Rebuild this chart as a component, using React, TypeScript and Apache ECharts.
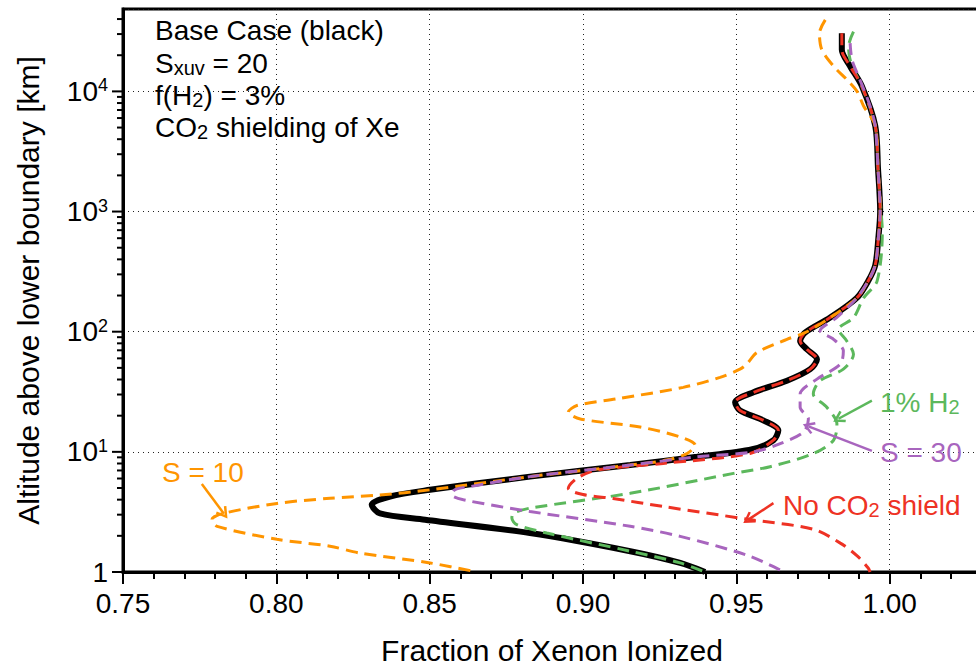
import React, { useEffect, useRef } from 'react';
import * as echarts from 'echarts';

const FONT = '"Liberation Sans", Arial, Helvetica, sans-serif';

const X_MIN = 0.75;
const X_MAX = 1.05;
const Y_MIN = 1;
const Y_MAX = 48500;

const COLOR_BASE = '#000000';
const COLOR_S10 = '#FF9500';
const COLOR_H2 = '#5CB85C';
const COLOR_S30 = '#A865BE';
const COLOR_CO2 = '#EE3224';

// [fraction ionized, altitude km]
const baseCase: [number, number][] = [
  [0.9844, 30500], [0.9844, 22200], [0.9871, 16200], [0.9909, 11100], [0.9953, 5170],
  [0.9962, 2270], [0.9969, 1000], [0.9963, 598], [0.9953, 358], [0.9930, 264],
  [0.9893, 191], [0.9806, 131], [0.9724, 98.1], [0.9708, 83.8], [0.9730, 71.4],
  [0.9763, 59.0], [0.9741, 48.8], [0.9665, 39.1], [0.9556, 31.3], [0.9496, 25.9],
  [0.9512, 22.1], [0.9588, 18.3], [0.9637, 15.1], [0.9621, 12.5], [0.9552, 10.5],
  [0.9372, 9.09], [0.9154, 7.76], [0.8827, 6.22], [0.8501, 4.83], [0.8371, 4.25],
  [0.8311, 3.63], [0.8338, 3.07], [0.8485, 2.72], [0.8827, 2.11], [0.9154, 1.49],
  [0.9317, 1.19], [0.9398, 1.0],
];

const noCO2Shield: [number, number][] = [
  [0.9844, 30500], [0.9844, 22200], [0.9871, 16200], [0.9909, 11100], [0.9953, 5170],
  [0.9962, 2270], [0.9969, 1000], [0.9963, 598], [0.9953, 358], [0.9930, 264],
  [0.9893, 191], [0.9806, 131], [0.9724, 98.1], [0.9708, 83.8], [0.9730, 71.4],
  [0.9763, 59.0], [0.9741, 48.8], [0.9665, 39.1], [0.9556, 31.3], [0.9496, 25.9],
  [0.9512, 22.1], [0.9588, 18.3], [0.9637, 15.1], [0.9621, 12.5], [0.9545, 9.7],
  [0.9261, 8.01], [0.9046, 7.06], [0.8980, 6.02], [0.8952, 4.97], [0.9000, 4.41],
  [0.9098, 4.09], [0.9261, 3.51], [0.9545, 2.73], [0.9750, 2.27], [0.9839, 1.74],
  [0.9894, 1.36], [0.9930, 1.08], [0.9936, 1.0],
];

const s10: [number, number][] = [
  [0.9790, 39400], [0.9771, 30500], [0.9779, 22200], [0.9817, 16200], [0.9860, 12570],
  [0.9893, 10060], [0.9915, 7560], [0.9953, 5170], [0.9962, 2270], [0.9969, 1000],
  [0.9963, 598], [0.9953, 358], [0.9930, 264], [0.9893, 191], [0.9806, 131],
  [0.9724, 98.1], [0.9665, 86.4], [0.9567, 67.0], [0.9534, 53.7], [0.9512, 48.8],
  [0.9447, 41.7], [0.9327, 34.4], [0.9110, 27.6], [0.8980, 24.3], [0.8952, 21.4],
  [0.8991, 18.8], [0.9186, 16.1], [0.9317, 13.3], [0.9366, 11.36], [0.9339, 9.68],
  [0.9273, 8.54], [0.9154, 7.76], [0.8827, 6.22], [0.8501, 4.83], [0.8338, 4.37],
  [0.8175, 4.11], [0.8002, 3.72], [0.7826, 3.07], [0.7790, 2.74], [0.7807, 2.40],
  [0.8002, 1.87], [0.8175, 1.64], [0.8273, 1.436], [0.8501, 1.19], [0.8655, 1.0],
];

const s30: [number, number][] = [
  [0.9871, 25250], [0.9877, 18380], [0.9898, 13390], [0.9920, 9750], [0.9936, 7560],
  [0.9953, 5170], [0.9962, 2270], [0.9969, 1000], [0.9963, 598], [0.9953, 358],
  [0.9930, 264], [0.9893, 191], [0.9826, 130.6], [0.9773, 102], [0.9817, 86.4],
  [0.9849, 69.3], [0.9839, 53.7], [0.9763, 40.3], [0.9708, 30.3], [0.9708, 23.5],
  [0.9735, 18.8], [0.9719, 14.6], [0.9643, 11.7], [0.9556, 10.0], [0.9372, 9.09],
  [0.9154, 7.76], [0.8827, 6.22], [0.8632, 5.14], [0.8583, 4.85], [0.8573, 4.37],
  [0.8610, 3.99], [0.8827, 3.19], [0.9154, 2.40], [0.9317, 1.98], [0.9535, 1.38],
  [0.9643, 1.04], [0.9655, 1.0],
];

const h2OnePct: [number, number][] = [
  [0.9882, 31500], [0.9866, 23670], [0.9871, 18380], [0.9893, 13390], [0.9909, 11100],
  [0.9953, 5170], [0.9962, 2270], [0.9972, 1000], [0.9976, 684], [0.9959, 264],
  [0.9915, 191], [0.9882, 130.6], [0.9833, 104.5], [0.9860, 83.8], [0.9882, 64.9],
  [0.9849, 48.8], [0.9773, 39.1], [0.9751, 30.3], [0.9795, 23.5], [0.9828, 17.1],
  [0.9817, 12.5], [0.9751, 9.68], [0.9610, 7.52], [0.9491, 6.62], [0.9154, 4.52],
  [0.8827, 3.40], [0.8773, 3.09], [0.8768, 2.81], [0.8784, 2.48], [0.8882, 2.11],
  [0.9154, 1.49], [0.9317, 1.19], [0.9398, 1.0],
];

// annotation arrows: [tail, head]
const arrowS10: [number, number][] = [[0.7757, 5.41], [0.7829, 3.06]];
const arrowH2: [number, number][] = [[0.9942, 26.7], [0.9833, 18.85]];
const arrowS30: [number, number][] = [[0.9942, 10.2], [0.9735, 16.3]];
const arrowCO2: [number, number][] = [[0.9621, 3.74], [0.9539, 2.73]];

const yMajorTicks = [1, 10, 100, 1000, 10000];
const yMinorTicks: number[] = [];
for (let e = 0; e <= 4; e++) {
  for (let m = 2; m <= 9; m++) {
    const v = m * Math.pow(10, e);
    if (v < Y_MAX) yMinorTicks.push(v);
  }
}

const ARROW = 'path://M5,0 L10,9 L8.4,10.2 L5,4 L1.6,10.2 L0,9 Z';

function arrowMark(color: string, pts: [number, number][]) {
  return {
    silent: true,
    animation: false,
    symbol: ['none', ARROW],
    symbolSize: [13, 12],
    label: { show: false },
    emphasis: { disabled: true },
    lineStyle: { color, width: 2.5, type: 'solid' },
    itemStyle: { color },
    data: [[{ coord: pts[0] }, { coord: pts[1] }]],
  };
}

function dashed(name: string, color: string, data: [number, number][], arrow: [number, number][] | null) {
  const s: any = {
    name,
    type: 'line',
    data,
    smooth: 0.3,
    showSymbol: false,
    symbol: 'none',
    lineStyle: { color, width: 3, type: [12, 7] },
    itemStyle: { color },
    emphasis: { disabled: true },
    silent: true,
    z: 3,
  };
  if (arrow) s.markLine = arrowMark(color, arrow);
  return s;
}

function txt(x: number, y: number, text: string, color: string) {
  return {
    type: 'text',
    x,
    y,
    z: 100,
    silent: true,
    style: {
      text,
      fill: color,
      fontSize: 28,
      fontFamily: FONT,
      lineHeight: 30,
      align: 'left',
      textAlign: 'left',
      verticalAlign: 'middle',
      textVerticalAlign: 'middle',
      rich: {
        sub: {
          fontSize: 20,
          fontFamily: FONT,
          lineHeight: 14,
          verticalAlign: 'bottom',
          fill: color,
        },
      },
    },
  };
}

export default function App() {
  const ref = useRef<HTMLDivElement>(null);
  useEffect(() => {
    document.body.style.margin = '0';
    document.body.style.overflow = 'hidden';
    document.documentElement.style.overflow = 'hidden';
    const chart = echarts.init(ref.current!, null, { renderer: 'svg' });
    const option: any = {
      animation: false,
      backgroundColor: '#ffffff',
      grid: {
        left: 123,
        right: 0,
        top: 9,
        bottom: 94,
        show: true,
        borderColor: '#000',
        borderWidth: 3,
        backgroundColor: 'transparent',
      },
      xAxis: {
        type: 'value',
        min: X_MIN,
        max: X_MAX,
        interval: 0.05,
        axisLine: { show: true, onZero: false, lineStyle: { color: '#000', width: 3 } },
        axisTick: { show: true, length: 12, lineStyle: { color: '#000', width: 2 } },
        minorTick: { show: true, splitNumber: 5, length: 7, lineStyle: { color: '#000', width: 2 } },
        splitLine: { show: true, lineStyle: { color: '#222', width: 1, type: [1, 4] } },
        axisLabel: {
          fontSize: 28,
          fontFamily: FONT,
          color: '#000',
          margin: 16,
          lineHeight: 30,
          showMaxLabel: false,
          formatter: (v: number) => v.toFixed(2),
        },
        name: 'Fraction of Xenon Ionized',
        nameLocation: 'middle',
        nameGap: 63,
        nameTextStyle: { fontSize: 30, fontFamily: FONT, color: '#000', padding: [0, 62, 0, 0] },
      },
      yAxis: {
        type: 'log',
        logBase: 10,
        min: Y_MIN,
        max: Y_MAX,
        axisLine: { show: true, onZero: false, lineStyle: { color: '#000', width: 3 } },
        axisTick: { show: false },
        minorTick: { show: false },
        splitLine: { show: true, lineStyle: { color: '#222', width: 1, type: [1, 4] } },
        axisLabel: {
          fontSize: 28,
          fontFamily: FONT,
          color: '#000',
          margin: 15,
          lineHeight: 30,
          showMaxLabel: false,
          formatter: (v: number) => {
            const e = Math.round(Math.log10(v));
            return e === 0 ? '1' : '10{sup|' + e + '}';
          },
          rich: {
            sup: { fontSize: 18, fontFamily: FONT, color: '#000', lineHeight: 21, verticalAlign: 'top' },
          },
        },
        name: 'Altitude above lower boundary [km]',
        nameLocation: 'middle',
        nameGap: 80,
        nameRotate: 90,
        nameTextStyle: { fontSize: 30, fontFamily: FONT, color: '#000' },
      },
      series: [
        {
          name: 'Base Case',
          type: 'line',
          data: baseCase,
          smooth: 0.3,
          showSymbol: false,
          symbol: 'none',
          lineStyle: { color: COLOR_BASE, width: 6 },
          itemStyle: { color: COLOR_BASE },
          emphasis: { disabled: true },
          silent: true,
          z: 2,
        },
        dashed('1% H2', COLOR_H2, h2OnePct, arrowH2),
        dashed('No CO2 shield', COLOR_CO2, noCO2Shield, arrowCO2),
        dashed('S = 10', COLOR_S10, s10, arrowS10),
        dashed('S = 30', COLOR_S30, s30, arrowS30),
        {
          name: 'yticks',
          type: 'custom',
          coordinateSystem: 'cartesian2d',
          silent: true,
          clip: false,
          z: 10,
          data: [
            ...yMajorTicks.map((v) => [X_MIN, v, 11]),
            ...yMinorTicks.map((v) => [X_MIN, v, 6]),
          ],
          renderItem: (_params: any, api: any) => {
            const p = api.coord([X_MIN, api.value(1)]);
            const len = api.value(2);
            return {
              type: 'line',
              shape: { x1: p[0] - len, y1: p[1], x2: p[0], y2: p[1] },
              style: { stroke: '#000', lineWidth: 2 },
            };
          },
        },
      ],
      graphic: [
        txt(155, 30, 'Base Case (black)', '#000'),
        txt(155, 63, 'S{sub|xuv} = 20', '#000'),
        txt(155, 95, 'f(H{sub|2}) = 3%', '#000'),
        txt(155, 127, 'CO{sub|2} shielding of Xe', '#000'),
        txt(162, 472, 'S = 10', COLOR_S10),
        txt(880, 402, '1% H{sub|2}', COLOR_H2),
        txt(880, 452, 'S = 30', COLOR_S30),
        txt(783, 505, 'No CO{sub|2} shield', COLOR_CO2),
      ],
    };
    chart.setOption(option);
    return () => chart.dispose();
  }, []);
  return <div ref={ref} style={{ width: 1043, height: 670 }} />;
}
